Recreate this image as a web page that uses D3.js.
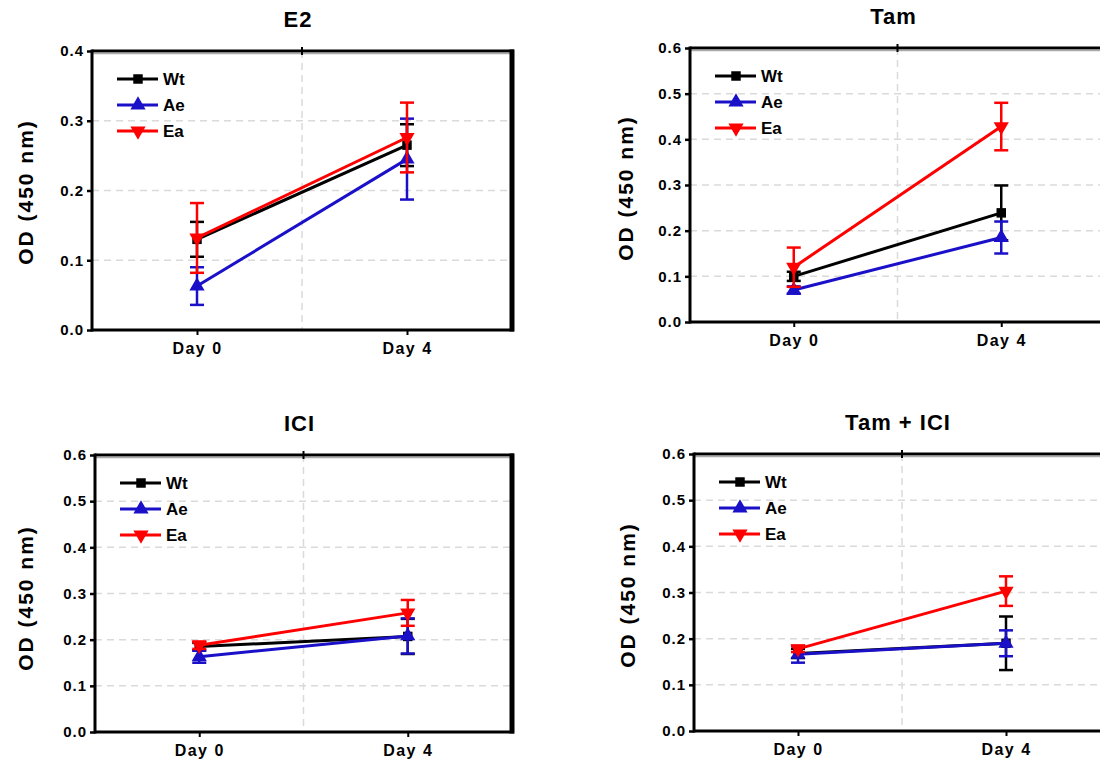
<!DOCTYPE html>
<html>
<head>
<meta charset="utf-8">
<script src="https://cdn.jsdelivr.net/npm/d3@7"></script>
<style>
  body { margin: 0; background: #fff; }
  svg { display: block; font-family: Arial, "Liberation Sans", sans-serif; }
</style>
</head>
<body>
<div id="chart"></div>
<script>
// categories and series
const days = ["Day 0", "Day 4"];
const seriesNames = ["Wt", "Ae", "Ea"];
const panelTitles = ["E2", "Tam", "ICI", "Tam + ICI"];
const yMaxes = [0.4, 0.6, 0.6, 0.6];

// means per series [Wt, Ae, Ea], each [Day 0, Day 4]
const e2Means = [[0.13, 0.265], [0.063, 0.245], [0.132, 0.276]];
const e2Errs = [[0.025, 0.03], [0.027, 0.058], [0.05, 0.05]];

const tamMeans = [[0.10, 0.239], [0.07, 0.185], [0.12, 0.428]];
const tamErrs = [[0.01, 0.06], [0.008, 0.035], [0.043, 0.052]];

const iciMeans = [[0.185, 0.207], [0.163, 0.208], [0.188, 0.258]];
const iciErrs = [[0.008, 0.038], [0.013, 0.038], [0.008, 0.028]];

const tamIciMeans = [[0.168, 0.19], [0.166, 0.19], [0.178, 0.303]];
const tamIciErrs = [[0.01, 0.058], [0.018, 0.028], [0.007, 0.032]];

const allMeans = [e2Means, tamMeans, iciMeans, tamIciMeans];
const allErrs = [e2Errs, tamErrs, iciErrs, tamIciErrs];

// layout (pixel boxes of each plot area)
const boxes = [
    { left: 92, right: 512, top: 51, bottom: 330, labelX: 26, labelY: 192 },
    { left: 690, right: 1105, top: 48, bottom: 322, labelX: 626, labelY: 188 },
    { left: 95, right: 512, top: 455, bottom: 732, labelX: 26, labelY: 598 },
    { left: 694, right: 1110, top: 454, bottom: 731, labelX: 628, labelY: 595 }
];
const colors = { Wt: "#000000", Ae: "#1a10c8", Ea: "#ff0000" };
const symbols = { Wt: d3.symbolSquare, Ae: d3.symbolTriangle, Ea: d3.symbolTriangle };
const symSize = { Wt: 90, Ae: 100, Ea: 100 };

const svg = d3.select("#chart").append("svg")
    .attr("width", 1100)
    .attr("height", 768);

panelTitles.forEach((title, p) => {
    const b = boxes[p];
    const g = svg.append("g");

    const x = d3.scalePoint().domain(days).range([b.left, b.right]).padding(0.5);
    const y = d3.scaleLinear().domain([0, yMaxes[p]]).range([b.bottom, b.top]);
    const yTicks = d3.range(0, yMaxes[p] + 0.001, 0.1);

    // grid
    g.selectAll(".hgrid")
        .data(yTicks.slice(1, -1))
        .enter().append("line")
        .attr("x1", b.left).attr("x2", b.right)
        .attr("y1", d => y(d)).attr("y2", d => y(d))
        .attr("stroke", "#dadada").attr("stroke-width", 1.5)
        .attr("stroke-dasharray", "7,5");
    g.append("line")
        .attr("x1", (b.left + b.right) / 2).attr("x2", (b.left + b.right) / 2)
        .attr("y1", b.top).attr("y2", b.bottom)
        .attr("stroke", "#dadada").attr("stroke-width", 1.5)
        .attr("stroke-dasharray", "7,5");

    // y axis
    const yAxis = d3.axisLeft(y).tickValues(yTicks).tickFormat(d3.format(".1f")).tickSize(5);
    const ya = g.append("g").attr("transform", `translate(${b.left},0)`).call(yAxis);
    ya.select(".domain").remove();
    ya.selectAll(".tick line").attr("stroke", "#000").attr("stroke-width", 2.5);
    ya.selectAll(".tick text")
        .attr("x", -8)
        .style("font-size", "15px").style("font-weight", "bold")
        .style("letter-spacing", "1px").attr("fill", "#000");

    // x axis
    const xAxis = d3.axisBottom(x).tickSize(5);
    const xa = g.append("g").attr("transform", `translate(0,${b.bottom})`).call(xAxis);
    xa.select(".domain").remove();
    xa.selectAll(".tick line").attr("stroke", "#000").attr("stroke-width", 2);
    xa.selectAll(".tick text")
        .attr("y", 13)
        .style("font-size", "16px").style("font-weight", "bold")
        .style("letter-spacing", "1.5px").attr("fill", "#000");

    // frame
    g.append("line").attr("x1", b.left).attr("x2", b.right + 2).attr("y1", b.top).attr("y2", b.top)
        .attr("stroke", "#000").attr("stroke-width", 3);
    g.append("line").attr("x1", b.left).attr("x2", b.right).attr("y1", b.top + 2.5).attr("y2", b.top + 2.5)
        .attr("stroke", "#aaa").attr("stroke-width", 1.5);
    g.append("line").attr("x1", b.left).attr("x2", b.right + 2).attr("y1", b.bottom).attr("y2", b.bottom)
        .attr("stroke", "#000").attr("stroke-width", 3);
    g.append("line").attr("x1", b.left).attr("x2", b.left).attr("y1", b.top - 1.5).attr("y2", b.bottom + 1.5)
        .attr("stroke", "#000").attr("stroke-width", 3);
    g.append("line").attr("x1", b.right).attr("x2", b.right).attr("y1", b.top - 1.5).attr("y2", b.bottom + 1.5)
        .attr("stroke", "#000").attr("stroke-width", 5);
    // small tick on top at middle
    g.append("line")
        .attr("x1", (b.left + b.right) / 2).attr("x2", (b.left + b.right) / 2)
        .attr("y1", b.top - 4).attr("y2", b.top + 4)
        .attr("stroke", "#000").attr("stroke-width", 2);

    // title
    g.append("text")
        .attr("x", (b.left + b.right) / 2 - 4)
        .attr("y", b.top - 24)
        .attr("text-anchor", "middle")
        .style("font-size", "22px").style("font-weight", "bold")
        .style("letter-spacing", "1px")
        .text(title);

    // y label
    g.append("text")
        .attr("transform", `translate(${b.labelX},${b.labelY}) rotate(-90)`)
        .attr("text-anchor", "middle")
        .attr("dy", "0.35em")
        .style("font-size", "21px").style("font-weight", "bold")
        .style("letter-spacing", "2px")
        .text("OD (450 nm)");

    // series
    const line = d3.line().x((d, i) => x(days[i])).y(d => y(d));
    seriesNames.forEach((name, s) => {
        const means = allMeans[p][s];
        const errs = allErrs[p][s];
        const col = colors[name];

        // error bars
        means.forEach((m, i) => {
            const cx = x(days[i]);
            const lo = y(m - errs[i]), hi = y(m + errs[i]);
            g.append("line").attr("x1", cx).attr("x2", cx).attr("y1", lo).attr("y2", hi)
                .attr("stroke", col).attr("stroke-width", 2.5);
            [lo, hi].forEach(yy => {
                g.append("line").attr("x1", cx - 7).attr("x2", cx + 7).attr("y1", yy).attr("y2", yy)
                    .attr("stroke", col).attr("stroke-width", 2.5);
            });
        });

        g.append("path")
            .datum(means)
            .attr("d", line)
            .attr("fill", "none")
            .attr("stroke", col)
            .attr("stroke-width", 3);

        g.selectAll(".pt-" + name)
            .data(means)
            .enter().append("path")
            .attr("d", d3.symbol().type(symbols[name]).size(symSize[name]))
            .attr("transform", (d, i) => `translate(${x(days[i])},${y(d)})${name === "Ea" ? " rotate(180)" : ""}`)
            .attr("fill", col);
    });

    // legend
    const legend = g.selectAll(".legend")
        .data(seriesNames)
        .enter().append("g")
        .attr("transform", (d, i) => `translate(${b.left + 25},${b.top + 28 + i * 26})`);
    legend.append("line")
        .attr("x1", 0).attr("x2", 41)
        .attr("stroke", d => colors[d]).attr("stroke-width", 3);
    legend.append("path")
        .attr("d", d => d3.symbol().type(symbols[d]).size(symSize[d])())
        .attr("transform", d => `translate(21,0)${d === "Ea" ? " rotate(180)" : ""}`)
        .attr("fill", d => colors[d]);
    legend.append("text")
        .attr("x", 46).attr("dy", "0.36em")
        .style("font-size", "17px").style("font-weight", "bold")
        .text(d => d);
});
</script>
</body>
</html>
